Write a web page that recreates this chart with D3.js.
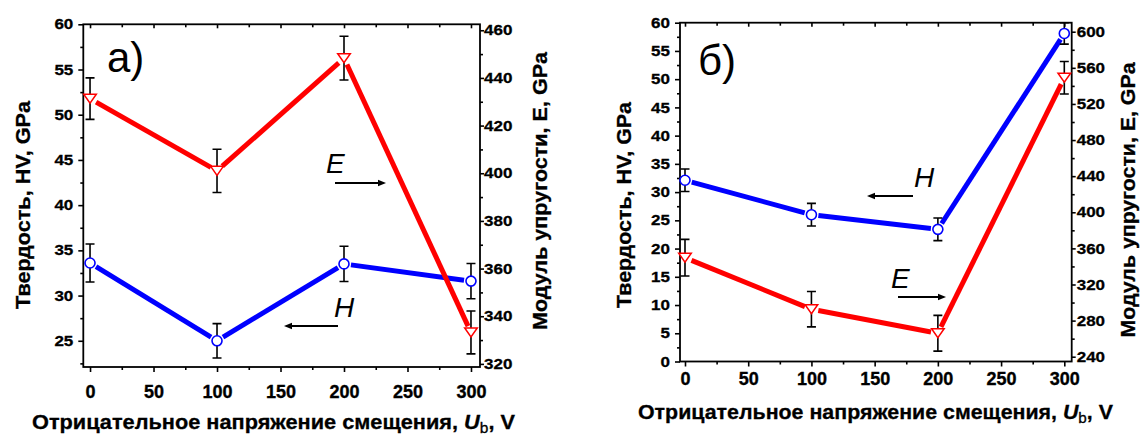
<!DOCTYPE html>
<html><head><meta charset="utf-8">
<script src="https://cdn.jsdelivr.net/npm/d3@7"></script>
<style>body{margin:0;background:#fff}svg{display:block}</style>
</head><body>
<svg id="c" width="1140" height="435"></svg>
<script>
// ---- data ----
const biasVoltage = [0, 100, 200, 300];
const hardnessA = [33.6, 25.0, 33.5, 31.6];
const hardnessErrA = [2.1, 1.9, 1.95, 1.95];
const modulusA = [431.3, 401.0, 448.3, 333.2];
const modulusErrA = [8.7, 9.1, 9.2, 9.0];
const hardnessB = [32.1, 26.0, 23.4, 58.1];
const hardnessErrB = [2.0, 2.0, 2.0, 1.9];
const modulusB = [349.7, 292.6, 266.0, 549.0];
const modulusErrB = [20.3, 19.6, 19.8, 18.0];
const xTicks = [0, 50, 100, 150, 200, 250, 300];
const xMinor = [25, 75, 125, 175, 225, 275];
const leftTicksA = [25, 30, 35, 40, 45, 50, 55, 60];
const leftMinorA = [22.5, 27.5, 32.5, 37.5, 42.5, 47.5, 52.5, 57.5];
const rightTicksA = [320, 340, 360, 380, 400, 420, 440, 460];
const rightMinorA = [330, 350, 370, 390, 410, 430, 450];
const leftTicksB = [0, 5, 10, 15, 20, 25, 30, 35, 40, 45, 50, 55, 60];
const leftMinorB = [2.5, 7.5, 12.5, 17.5, 22.5, 27.5, 32.5, 37.5, 42.5, 47.5, 52.5, 57.5];
const rightTicksB = [240, 280, 320, 360, 400, 440, 480, 520, 560, 600];
const rightMinorB = [260, 300, 340, 380, 420, 460, 500, 540, 580];
const xTitle = "Отрицательное напряжение смещения, ";
const leftTitle = "Твердость, HV, GPa";
const rightTitle = "Модуль упругости, E, GPa";

const svg = d3.select("#c");
const FONT = "'Liberation Sans', Arial, sans-serif";

function drawPanel(o) {
  const g = svg.append("g");
  const x = d3.scaleLinear().domain(o.xDom).range([o.x0, o.x1]);
  const yL = d3.scaleLinear().domain(o.lDom).range([o.y1, o.y0]);
  const yR = d3.scaleLinear().domain(o.rDom).range([o.y1, o.y0]);

  function ax(axisGen, tr, vals, size, labels, pad) {
    const a = g.append("g").attr("transform", tr)
      .call(axisGen.tickValues(vals).tickSize(size).tickPadding(pad)
        .tickFormat(labels ? d3.format("d") : ""));
    a.select(".domain").remove();
    a.selectAll("line").attr("stroke", "#000").attr("stroke-width", 1.6);
    a.selectAll("text").attr("font-family", FONT).attr("font-weight", "bold")
      .attr("fill", "#000").attr("stroke", "#000").attr("stroke-width", 0.35);
    return a;
  }
  // bottom
  const xb = ax(d3.axisBottom(x), `translate(0,${o.y1})`, xTicks, 5, true, o.xPad);
  xb.selectAll("text").attr("font-size", 18);
  ax(d3.axisBottom(x), `translate(0,${o.y1})`, xMinor, 3, false, 0);
  // top (inward)
  ax(d3.axisBottom(x), `translate(0,${o.y0})`, xTicks, 4, false, 0);
  ax(d3.axisBottom(x), `translate(0,${o.y0})`, xMinor, 3, false, 0);
  // left
  const yl = ax(d3.axisLeft(yL), `translate(${o.x0},0)`, o.lTicks, 5, true, o.lPad);
  yl.selectAll("text").attr("font-size", 17).attr("transform", "scale(1,0.85)");
  ax(d3.axisLeft(yL), `translate(${o.x0},0)`, o.lMinor, 3, false, 0);
  // right
  const yr = ax(d3.axisRight(yR), `translate(${o.x1},0)`, o.rTicks, 4, true, o.rPad);
  yr.selectAll("text").attr("font-size", 17).attr("transform", "scale(1,0.85)");
  ax(d3.axisRight(yR), `translate(${o.x1},0)`, o.rMinor, 3, false, 0);

  g.append("rect").attr("x", o.x0).attr("y", o.y0)
    .attr("width", o.x1 - o.x0).attr("height", o.y1 - o.y0)
    .attr("fill", "none").attr("stroke", "#000").attr("stroke-width", 1.8);

  function series(vals, errs, yS, color, shape) {
    const pts = biasVoltage.map((v, i) => [x(v), yS(vals[i])]);
    const gap = 7;
    for (let i = 0; i < pts.length - 1; i++) {
      const [ax1, ay1] = pts[i], [bx, by] = pts[i + 1];
      const L = Math.hypot(bx - ax1, by - ay1);
      const ux = (bx - ax1) / L, uy = (by - ay1) / L;
      g.append("line")
        .attr("x1", ax1 + ux * gap).attr("y1", ay1 + uy * gap)
        .attr("x2", bx - ux * gap).attr("y2", by - uy * gap)
        .attr("stroke", color).attr("stroke-width", 5);
    }
    biasVoltage.forEach((v, i) => {
      const cx = x(v), t = yS(vals[i] + errs[i]), b = yS(vals[i] - errs[i]);
      g.append("path").attr("d", `M${cx},${t}V${b}M${cx - 4.5},${t}H${cx + 4.5}M${cx - 4.5},${b}H${cx + 4.5}`)
        .attr("stroke", "#000").attr("stroke-width", 1.6).attr("fill", "none");
    });
    biasVoltage.forEach((v, i) => {
      const cx = x(v), cy = yS(vals[i]);
      if (shape === "circle") {
        g.append("circle").attr("cx", cx).attr("cy", cy).attr("r", 5)
          .attr("fill", "#fff").attr("stroke", color).attr("stroke-width", 1.6);
      } else {
        g.append("path").attr("d", `M${cx - 6.3},${cy - 4.5}H${cx + 6.3}L${cx},${cy + 4.5}Z`)
          .attr("fill", "#fff").attr("stroke", color).attr("stroke-width", 1.5);
      }
    });
  }
  series(o.h, o.hErr, yL, "#0000ff", "circle");
  series(o.e, o.eErr, yR, "#ff0000", "tri");

  // titles
  const xt = g.append("text").attr("x", o.xtX).attr("y", o.xtY)
    .attr("text-anchor", "middle").attr("font-family", FONT).attr("font-weight", "bold")
    .attr("font-size", 21).attr("textLength", o.xtLen).attr("lengthAdjust", "spacingAndGlyphs")
    .attr("stroke", "#000").attr("stroke-width", 0.3);
  xt.append("tspan").text(xTitle);
  xt.append("tspan").attr("font-style", "italic").text("U");
  xt.append("tspan").attr("font-size", 15).attr("font-weight", "normal").attr("dy", 4).text("b");
  xt.append("tspan").attr("dy", -4).text(", V");

  g.append("text").attr("transform", `translate(${o.ltX},${o.ltY}) rotate(-90)`)
    .attr("text-anchor", "middle").attr("font-family", FONT).attr("font-weight", "bold")
    .attr("font-size", 21).attr("textLength", o.ltLen).attr("lengthAdjust", "spacingAndGlyphs")
    .attr("stroke", "#000").attr("stroke-width", 0.3)
    .text(leftTitle);
  g.append("text").attr("transform", `translate(${o.rtX},${o.rtY}) rotate(-90)`)
    .attr("text-anchor", "middle").attr("font-family", FONT).attr("font-weight", "bold")
    .attr("font-size", 21).attr("textLength", o.rtLen).attr("lengthAdjust", "spacingAndGlyphs")
    .attr("stroke", "#000").attr("stroke-width", 0.3)
    .text(rightTitle);

  // panel label
  g.append("text").attr("x", o.pl[0]).attr("y", o.pl[1]).attr("font-family", FONT)
    .attr("font-size", 42).text(o.label);

  // annotations: letter + arrow
  o.notes.forEach(n => {
    g.append("text").attr("x", n.tx).attr("y", n.ty).attr("font-family", FONT)
      .attr("font-style", "italic").attr("font-size", 28).text(n.t);
    const dir = Math.sign(n.ax2 - n.ax1), hx = n.ax2 - dir * 8;
    g.append("line").attr("x1", n.ax1).attr("y1", n.ay).attr("x2", hx).attr("y2", n.ay)
      .attr("stroke", "#000").attr("stroke-width", 2);
    g.append("path").attr("d", `M${n.ax2},${n.ay}L${hx},${n.ay - 3.2}L${hx},${n.ay + 3.2}Z`)
      .attr("fill", "#000");
  });
}

drawPanel({
  x0: 83.3, x1: 480, y0: 24.3, y1: 367,
  xDom: [-5.3, 307.1], lDom: [22.1, 60], rDom: [318.7, 462.5],
  lTicks: leftTicksA, lMinor: leftMinorA, rTicks: rightTicksA, rMinor: rightMinorA,
  xPad: 13, lPad: 5, rPad: 0,
  h: hardnessA, hErr: hardnessErrA, e: modulusA, eErr: modulusErrA,
  xtX: 273.5, xtY: 429, xtLen: 483,
  ltX: 30, ltY: 205, ltLen: 208,
  rtX: 547, rtY: 191, rtLen: 278,
  label: "a)", pl: [107, 72],
  notes: [
    { t: "E", tx: 326, ty: 173, ax1: 335, ax2: 386, ay: 183 },
    { t: "H", tx: 334, ty: 317, ax1: 338, ax2: 284, ay: 326 }
  ]
});

drawPanel({
  x0: 680, x1: 1071.7, y0: 22.7, y1: 361.5,
  xDom: [-3.95, 305.85], lDom: [0, 60], rDom: [234.7, 610],
  lTicks: leftTicksB, lMinor: leftMinorB, rTicks: rightTicksB, rMinor: rightMinorB,
  xPad: 6, lPad: 5, rPad: 1,
  h: hardnessB, hErr: hardnessErrB, e: modulusB, eErr: modulusErrB,
  xtX: 875.5, xtY: 419, xtLen: 475,
  ltX: 631, ltY: 205, ltLen: 206,
  rtX: 1135, rtY: 200, rtLen: 275,
  label: "б)", pl: [698, 75],
  notes: [
    { t: "H", tx: 914, ty: 187, ax1: 913, ax2: 867, ay: 196 },
    { t: "E", tx: 891, ty: 288, ax1: 898, ax2: 946, ay: 297 }
  ]
});
</script>
</body></html>
